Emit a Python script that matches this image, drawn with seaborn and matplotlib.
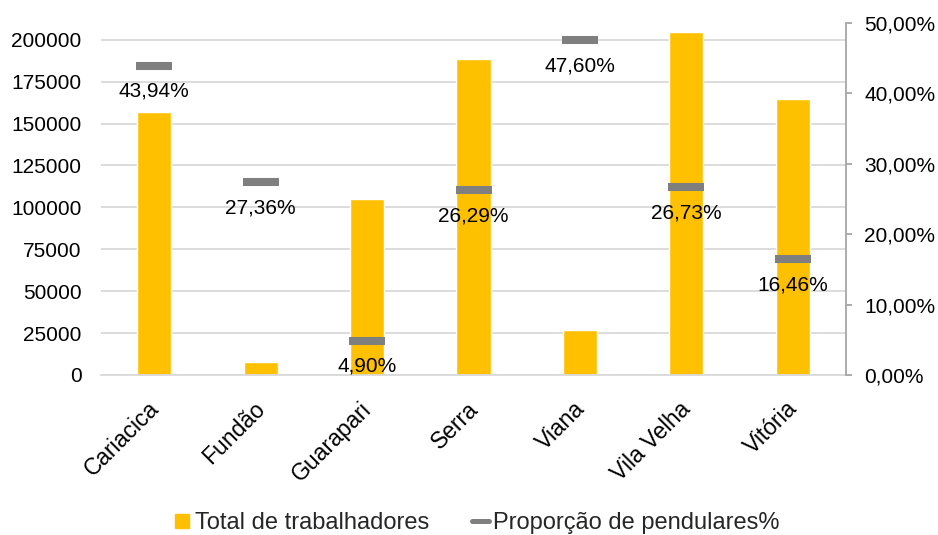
import numpy as np
import pandas as pd
import matplotlib
matplotlib.use("Agg")
import matplotlib.pyplot as plt
import matplotlib.transforms as mtransforms
import seaborn as sns
from matplotlib.lines import Line2D

categories = ["Cariacica", "Fundão", "Guarapari", "Serra", "Viana", "Vila Velha", "Vitória"]
total_trabalhadores = [157000, 7600, 104900, 188700, 27000, 204600, 164800]
proporcao_pendulares = [0.4394, 0.2736, 0.0490, 0.2629, 0.4760, 0.2673, 0.1646]
left_ticks = [0, 25000, 50000, 75000, 100000, 125000, 150000, 175000, 200000]
right_ticks = [0.0, 0.1, 0.2, 0.3, 0.4, 0.5]

sns.set_theme(style="white")
plt.rcParams['font.family'] = ['Liberation Sans', 'DejaVu Sans']

YELLOW = "#FFC000"
GREY = "#7F7F7F"
FS = 15

df = pd.DataFrame({"cat": categories, "total": total_trabalhadores, "prop": proporcao_pendulares})
df["pos"] = np.arange(len(df))

fig = plt.figure(figsize=(9.38, 5.35), dpi=100)
ax = fig.add_axes([101/938, 1-375/535, (846-101)/938, (375-23)/535])

sns.barplot(data=df, x="cat", y="total", color=YELLOW, width=0.32, saturation=1, ax=ax, zorder=2)
ax.set_ylim(0, 210000)
ax.set_xlim(-0.5, len(categories)-0.5)
ax.set_yticks(left_ticks)
ax.set_yticklabels([str(t) for t in left_ticks])
ax.yaxis.grid(True, color="#D9D9D9", linewidth=1.3, zorder=0)
ax.set_axisbelow(True)
ax.set_xlabel("")
ax.set_ylabel("")
for s in ["left", "top", "right"]:
    ax.spines[s].set_visible(False)
ax.spines["bottom"].set_color("#D9D9D9")
ax.spines["bottom"].set_linewidth(1.3)
ax.tick_params(axis="y", length=0, pad=14, labelsize=FS, labelcolor="#000000")
ax.tick_params(axis="x", length=0, pad=16, labelsize=16.5, labelcolor="#000000")
shift = mtransforms.ScaledTranslation(-7/100, 0, fig.dpi_scale_trans)
for lbl in ax.get_xticklabels():
    lbl.set_rotation(45)
    lbl.set_ha("right")
    lbl.set_rotation_mode("anchor")
    lbl.set_transform(lbl.get_transform() + shift)

ax2 = ax.twinx()
sns.scatterplot(data=df, x="pos", y="prop", marker="_", s=26**2, linewidth=5.8,
                color=GREY, ax=ax2, zorder=3, legend=False)
ax2.set_ylim(0, 0.5)
ax2.set_xlim(-0.5, len(categories)-0.5)
ax2.set_yticks(right_ticks)
ax2.set_yticklabels([f"{t*100:.2f}%".replace(".", ",") for t in right_ticks])
ax2.set_ylabel("")
ax2.set_xlabel("")
for s in ["left", "top", "bottom"]:
    ax2.spines[s].set_visible(False)
ax2.spines["right"].set_color("#A6A6A6")
ax2.spines["right"].set_linewidth(1.3)
ax2.tick_params(axis="y", direction="out", length=4, width=1.3, color="#A6A6A6",
                pad=9, labelsize=FS, labelcolor="#000000", right=True, left=False)
ax2.grid(False)

for p, v in zip(df["pos"], df["prop"]):
    ax2.annotate(f"{v*100:.2f}%".replace(".", ","), (p, v), xytext=(0, -18.5),
                 textcoords="offset points", ha="center", va="center",
                 fontsize=FS, color="#000000", zorder=4)

handles = [Line2D([0], [0], marker="s", ms=9.4, color=YELLOW, ls="none",
                  label="Total de trabalhadores"),
           Line2D([0], [0], color=GREY, lw=3.6, label="Proporção de pendulares%")]
fig.legend(handles=handles, loc="center", bbox_to_anchor=(0.508, 1-523/535), ncol=2,
           frameon=False, fontsize=17, handlelength=0.75,
           handletextpad=0.15, columnspacing=1.8)

fig.savefig("out.png", dpi=100)
